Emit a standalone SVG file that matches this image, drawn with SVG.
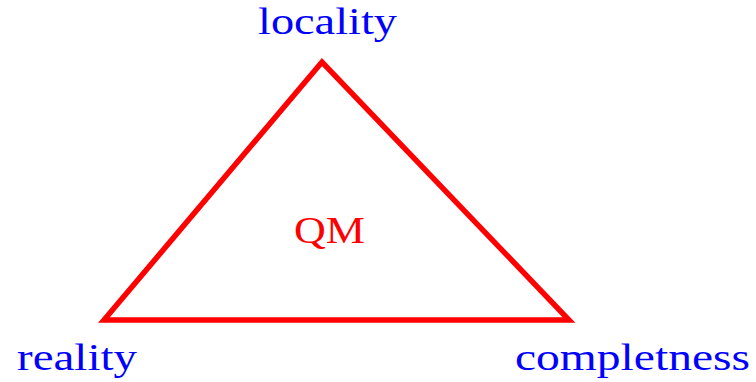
<svg xmlns="http://www.w3.org/2000/svg" width="756" height="382" viewBox="0 0 756 382">
<style>
.lbl{font-family:"Liberation Serif","Times New Roman",serif;font-size:37px;fill:#0000ff}
.qm{font-family:"Liberation Serif","Times New Roman",serif;font-size:37px;fill:#ff0000}
</style>
<rect width="756" height="382" fill="#ffffff"/>
<g id="connectors">
<polygon points="322,62 104,320 569,320" fill="none" stroke="#ff0000" stroke-width="5.5" stroke-linejoin="miter"/>
</g>
<g id="node-locality"><text class="lbl" x="258" y="34" textLength="139" lengthAdjust="spacingAndGlyphs">locality</text></g>
<g id="node-reality"><text class="lbl" x="17" y="370" textLength="120" lengthAdjust="spacingAndGlyphs">reality</text></g>
<g id="node-completness"><text class="lbl" x="515" y="370" textLength="235" lengthAdjust="spacingAndGlyphs">completness</text></g>
<g id="node-qm"><text class="qm" x="294" y="243" textLength="71" lengthAdjust="spacingAndGlyphs">QM</text></g>
</svg>
